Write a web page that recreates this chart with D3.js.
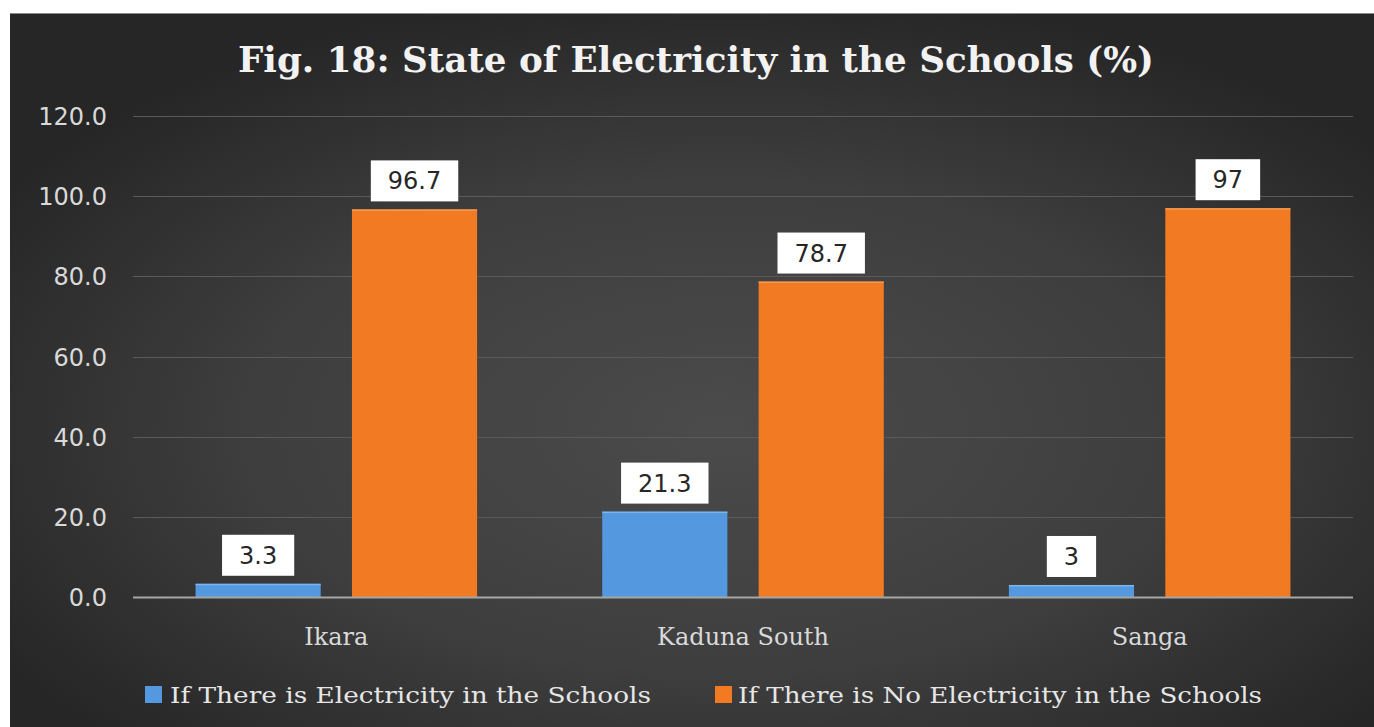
<!DOCTYPE html>
<html>
<head>
<meta charset="utf-8">
<script src="https://cdn.jsdelivr.net/npm/d3@7"></script>
<style>
  html, body { margin: 0; padding: 0; background: #ffffff; }
  svg { display: block; }
</style>
</head>
<body>
<script>
// Chart data
const categories = ["Ikara", "Kaduna South", "Sanga"];
const seriesNames = [
  "If There is Electricity in the Schools",
  "If There is No Electricity in the Schools"
];
const withElectricity = [3.3, 21.3, 3];
const withoutElectricity = [96.7, 78.7, 97];
const valueLabels = [["3.3", "21.3", "3"], ["96.7", "78.7", "97"]];
const yTicks = [0, 20, 40, 60, 80, 100, 120];
const titleText = "Fig. 18: State of Electricity in the Schools (%)";

const seriesValues = [withElectricity, withoutElectricity];
const seriesColors = ["#5499df", "#f17a22"];
const seriesTops = ["#7db4ea", "#f59a52"];

const W = 1374, H = 727;
const svg = d3.select("body").append("svg").attr("width", W).attr("height", H);
const defs = svg.append("defs");

// Dark background with a soft lighter centre
const bg = defs.append("radialGradient").attr("id", "bg")
  .attr("cx", "52%").attr("cy", "58%").attr("r", "62%")
  .attr("gradientUnits", "objectBoundingBox");
bg.append("stop").attr("offset", "0%").attr("stop-color", "#4b4b4b");
bg.append("stop").attr("offset", "55%").attr("stop-color", "#3e3e3e");
bg.append("stop").attr("offset", "100%").attr("stop-color", "#262626");

svg.append("rect").attr("x", 10).attr("y", 13).attr("width", W - 10).attr("height", H - 13)
  .attr("fill", "url(#bg)");
svg.append("line").attr("x1", 10).attr("x2", W).attr("y1", 13.5).attr("y2", 13.5)
  .attr("stroke", "#8a8a8a").attr("stroke-width", 1);

// Title
svg.append("text")
  .attr("x", 696).attr("y", 72)
  .attr("text-anchor", "middle")
  .attr("font-family", "'DejaVu Serif', serif")
  .attr("font-weight", "bold")
  .attr("font-size", 36)
  .attr("fill", "#f2f2f2")
  .attr("textLength", 916)
  .attr("lengthAdjust", "spacingAndGlyphs")
  .text(titleText);

// Scales
const plotLeft = 133, plotRight = 1353;
const y = d3.scaleLinear().domain([0, 120]).range([597, 116]);
const x0 = d3.scaleBand().domain(categories).range([plotLeft, plotRight]).padding(0);
const x1 = d3.scaleBand().domain(d3.range(seriesNames.length))
  .range([0, x0.bandwidth()]).paddingInner(0.2).paddingOuter(0.4);

// Gridlines
svg.append("g").selectAll("line")
  .data(yTicks.filter(t => t !== 0))
  .join("line")
  .attr("x1", plotLeft).attr("x2", plotRight)
  .attr("y1", d => Math.round(y(d)) + 0.5).attr("y2", d => Math.round(y(d)) + 0.5)
  .attr("stroke", "#5a5a5a").attr("stroke-width", 1);

// Y axis tick labels
const yAxis = d3.axisLeft(y).tickValues(yTicks).tickFormat(d3.format(".1f")).tickSize(0).tickPadding(0);
const yg = svg.append("g").attr("transform", "translate(107,0)").call(yAxis);
yg.select(".domain").remove();
yg.selectAll("text")
  .attr("font-family", "'DejaVu Sans', sans-serif")
  .attr("font-size", 24)
  .attr("fill", "#d9d9d9")
  .attr("dy", "0.36em");

// Bars
const groups = svg.append("g").selectAll("g")
  .data(categories)
  .join("g")
  .attr("transform", d => `translate(${x0(d)},0)`);

groups.selectAll("rect.bar")
  .data((c, ci) => seriesValues.map((vals, si) => ({ si, ci, v: vals[ci] })))
  .join("rect")
  .attr("class", "bar")
  .attr("x", d => x1(d.si))
  .attr("width", x1.bandwidth())
  .attr("y", d => y(d.v))
  .attr("height", d => y(0) - y(d.v))
  .attr("fill", d => seriesColors[d.si]);

groups.selectAll("rect.top")
  .data((c, ci) => seriesValues.map((vals, si) => ({ si, ci, v: vals[ci] })))
  .join("rect")
  .attr("class", "top")
  .attr("x", d => x1(d.si))
  .attr("width", x1.bandwidth())
  .attr("y", d => y(d.v))
  .attr("height", 1.5)
  .attr("fill", d => seriesTops[d.si]);

// Baseline
svg.append("line")
  .attr("x1", plotLeft).attr("x2", plotRight)
  .attr("y1", y(0) + 0.5).attr("y2", y(0) + 0.5)
  .attr("stroke", "#a6a6a6").attr("stroke-width", 2);

// Data labels in white boxes
const labels = groups.selectAll("g.lbl")
  .data((c, ci) => seriesValues.map((vals, si) => ({ si, ci, v: vals[ci], t: valueLabels[si][ci] })))
  .join("g")
  .attr("class", "lbl");

labels.each(function (d) {
  const g = d3.select(this);
  const cx = x1(d.si) + x1.bandwidth() / 2;
  const bottom = y(d.v) - 8;
  const txt = g.append("text")
    .attr("x", cx).attr("y", bottom - 12)
    .attr("text-anchor", "middle")
    .attr("font-family", "'DejaVu Sans', sans-serif")
    .attr("font-size", 24)
    .attr("fill", "#262626")
    .text(d.t);
  const w = txt.node().getComputedTextLength() + 34;
  g.insert("rect", "text")
    .attr("x", cx - w / 2).attr("y", bottom - 41)
    .attr("width", w).attr("height", 41)
    .attr("fill", "#ffffff");
});

// Category labels
svg.append("g").selectAll("text")
  .data(categories)
  .join("text")
  .attr("x", d => x0(d) + x0.bandwidth() / 2)
  .attr("y", 645)
  .attr("text-anchor", "middle")
  .attr("font-family", "'DejaVu Serif', serif")
  .attr("font-size", 24)
  .attr("fill", "#d9d9d9")
  .text(d => d);

// Legend
const legendItems = [
  { name: seriesNames[0], color: seriesColors[0], sx: 145, tx: 170, tw: 481 },
  { name: seriesNames[1], color: seriesColors[1], sx: 715, tx: 738, tw: 524 }
];
const lg = svg.append("g").selectAll("g").data(legendItems).join("g");
lg.append("rect")
  .attr("x", d => d.sx).attr("y", 686)
  .attr("width", 17).attr("height", 17)
  .attr("fill", d => d.color);
lg.append("text")
  .attr("x", d => d.tx).attr("y", 703)
  .attr("font-family", "'DejaVu Serif', serif")
  .attr("font-size", 23)
  .attr("fill", "#e6e6e6")
  .attr("textLength", d => d.tw)
  .attr("lengthAdjust", "spacingAndGlyphs")
  .text(d => d.name);
</script>
</body>
</html>
